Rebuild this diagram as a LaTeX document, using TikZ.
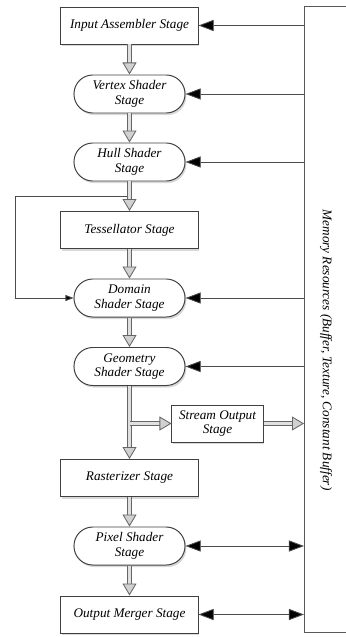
\documentclass[tikz,border=0pt]{standalone}
\usepackage{fontspec}
\setmainfont{Liberation Serif}
\usetikzlibrary{arrows.meta,shadows}

\tikzset{
  stage/.style={draw=black!75, fill=white, line width=0.7pt,
    minimum width=3.425cm, minimum height=0.925cm, align=center,
    font=\itshape\fontsize{9.4}{10.5}\selectfont,
    drop shadow={shadow xshift=1pt, shadow yshift=-1.5pt, opacity=0.3}},
  pill/.style={stage, rounded corners=0.47cm, minimum width=2.775cm, minimum height=0.95cm},
  small/.style={stage, minimum width=2.275cm},
  panel/.style={draw=black!65, fill=white, line width=0.9pt, anchor=north west,
    minimum width=1.5cm, minimum height=15.65cm},
  fat/.style={draw=black!60, line width=0.6pt, double=black!12, double distance=2.6pt,
    -{Triangle[length=0.3cm, width=0.35cm, line width=0.6pt, fill=black!18]}},
  feed/.style={draw=black!70, line width=0.6pt, -{Triangle[length=0.2cm, width=0.15cm, fill=black]}},
  mem/.style={draw=black!70, line width=0.6pt, -{Triangle[length=0.38cm, width=0.28cm, fill=black]}},
  memboth/.style={mem, {Triangle[length=0.38cm, width=0.28cm, fill=black]}-{Triangle[length=0.38cm, width=0.28cm, fill=black]}},
}

\begin{document}
\begin{tikzpicture}[x=0.025cm, y=-0.025cm]
  \useasboundingbox (0,0) rectangle (346,637);

  % Memory panel on the right
  \node[panel] (mem) at (304,6) {};
  \node[rotate=-90, font=\itshape\fontsize{9.4}{11}\selectfont] (memtxt) at (326,350)
    {Memory Resources (Buffer, Texture, Constant Buffer)};

  % Pipeline stages
  \node[stage] (ia) at (129.5, 25.5) {Input Assembler Stage};
  \node[pill]  (vs) at (129.5, 94)   {Vertex Shader\\Stage};
  \node[pill]  (hs) at (129.5, 162)  {Hull Shader\\Stage};
  \node[stage] (ts) at (129.5, 230)  {Tessellator Stage};
  \node[pill]  (ds) at (129.5, 298)  {Domain\\Shader Stage};
  \node[pill]  (gs) at (129.5, 366.5) {Geometry\\Shader Stage};
  \node[small] (so) at (217.5, 423.5) {Stream Output\\Stage};
  \node[stage] (rs) at (129.5, 478)  {Rasterizer Stage};
  \node[pill]  (ps) at (129.5, 546)  {Pixel Shader\\Stage};
  \node[stage] (om) at (129.5, 614.5) {Output Merger Stage};

  % Flow down the pipeline
  \foreach \a/\b in {ia/vs, vs/hs, hs/ts, ts/ds, ds/gs, gs/rs, rs/ps, ps/om}
    \draw[fat] (\a) -- (\b);

  % Stream output branch
  \coordinate (br) at (gs.south |- so.west);
  \draw[fat] (br) -- (so.west);
  \draw[fat] (so.east) -- (mem.west |- so.east);

  % Hull shader bypass to domain shader
  \coordinate (fb) at (127, 196.5);
  \coordinate (fbl) at (15, 196.5);
  \draw[feed] (fb) -- (fbl) |- (ds.west);

  % Memory access
  \foreach \n in {ia, vs, hs, ds, gs}
    \draw[mem] (mem.west |- \n.east) -- (\n.east);
  \foreach \n in {ps, om}
    \draw[memboth] (\n.east) -- (mem.west |- \n.east);
\end{tikzpicture}
\end{document}
